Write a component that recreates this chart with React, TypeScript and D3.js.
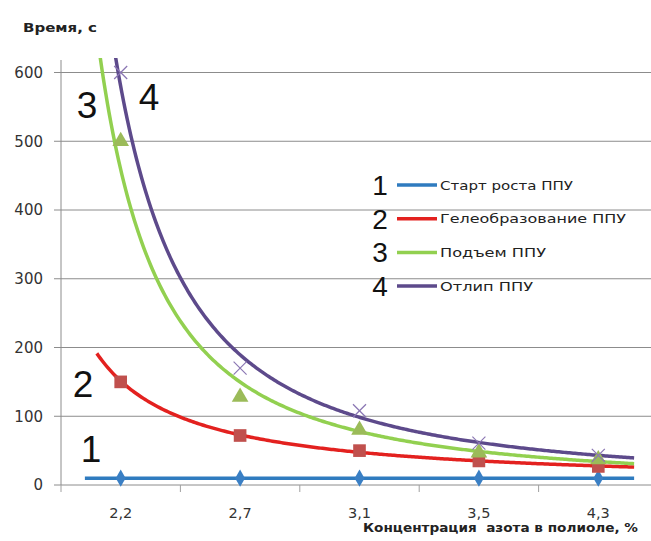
import React from "react";
import * as d3 from "d3";

const categories = ["2,2", "2,7", "3,1", "3,5", "4,3"];
const startGrowth = [10, 10, 10, 10, 10];
const gelation = [150, 72, 50, 35, 27];
const rise = [500, 128, 80, 47, 37];
const tackFree = [600, 170, 108, 61, 43];
const yTicks = [0, 100, 200, 300, 400, 500, 600];
const seriesNames = ["Старт роста ППУ", "Гелеобразование ППУ", "Подъем ППУ", "Отлип ППУ"];
const seriesNumbers = ["1", "2", "3", "4"];
const trendStart = [0.7, 0.8, 0.8, 0.8];
const trendEnd = [5.3, 5.3, 5.3, 5.3];
const yTitle = "Время, с";
const xTitle = "Концентрация  азота в полиоле, %";

const W = 651;
const H = 541;
const left = 61;
const right = 658;
const top = 58;
const bottom = 485;

const lineColors = ["#2f7bbf", "#e3211f", "#92d050", "#5d4a8b"];
const markerColors = ["#3a7fc4", "#c0504d", "#9bbb59", "#8a76b3"];

function powerFit(vals: number[]) {
  const xs = vals.map((_, i) => Math.log(i + 1));
  const ys = vals.map((v) => Math.log(v));
  const mx = d3.mean(xs) as number;
  const my = d3.mean(ys) as number;
  let sxy = 0, sxx = 0;
  xs.forEach((x, i) => {
    sxy += (x - mx) * (ys[i] - my);
    sxx += (x - mx) * (x - mx);
  });
  const b = sxy / sxx;
  const a = Math.exp(my - b * mx);
  return (t: number) => a * Math.pow(t, b);
}

export default function App() {
  const series = [startGrowth, gelation, rise, tackFree];
  const xBand = d3.scaleBand<string>().domain(categories).range([left, right]).padding(0);
  const xIdx = d3.scaleLinear().domain([0.5, categories.length + 0.5]).range([left, right]);
  const y = d3.scaleLinear().domain([0, 600]).range([bottom, 72.5]);
  const line = d3.line<[number, number]>().x((d) => xIdx(d[0])).y((d) => y(d[1]));

  const trends = series.map((vals, si) => {
    const f = powerFit(vals);
    const pts: [number, number][] = d3
      .range(0, 301)
      .map((k) => trendStart[si] + ((trendEnd[si] - trendStart[si]) * k) / 300)
      .map((t) => [t, f(t)]);
    return line(pts) as string;
  });

  const bandEdges = d3.range(categories.length + 1).map((i) => left + i * xBand.bandwidth());
  const cx = (c: string) => (xBand(c) as number) + xBand.bandwidth() / 2;

  const marker = (si: number, c: string, v: number, key: string) => {
    const px = cx(c);
    const py = y(v);
    if (si === 0) {
      return (
        <path key={key} transform={`translate(${px},${py})`} d={d3.symbol().type(d3.symbolDiamond).size(85)() as string} fill={markerColors[0]} />
      );
    }
    if (si === 1) {
      return (
        <path key={key} transform={`translate(${px},${py})`} d={d3.symbol().type(d3.symbolSquare).size(160)() as string} fill={markerColors[1]} />
      );
    }
    if (si === 2) {
      return (
        <path key={key} transform={`translate(${px},${py})`} d={d3.symbol().type(d3.symbolTriangle).size(120)() as string} fill={markerColors[2]} />
      );
    }
    return (
      <g key={key} transform={`translate(${px},${py})`} stroke={markerColors[3]} strokeWidth={1.2}>
        <line x1={-6.5} y1={-6.5} x2={6.5} y2={6.5} />
        <line x1={-6.5} y1={6.5} x2={6.5} y2={-6.5} />
      </g>
    );
  };

  const plotLabels = [
    { t: seriesNumbers[2], x: 87, y: 118 },
    { t: seriesNumbers[3], x: 149, y: 110 },
    { t: seriesNumbers[1], x: 83, y: 397 },
    { t: seriesNumbers[0], x: 91, y: 462 },
  ];
  const legendY0 = 185;
  const legendStep = 33.7;
  const legendWidths = [133, 186, 106, 93];

  return (
    <svg width={W} height={H} style={{ position: "fixed", left: 0, top: 0, background: "#fff" }}>
      <defs>
        <clipPath id="plot">
          <rect x={left} y={top} width={right - left} height={bottom - top + 5} />
        </clipPath>
      </defs>
      <rect x={0} y={0} width={W} height={H} fill="#fff" />
      {yTicks.slice(1).map((t) => (
        <line key={"g" + t} x1={left} x2={right} y1={y(t)} y2={y(t)} stroke="#8c8c8c" strokeWidth={1} />
      ))}
      <line x1={left} x2={left} y1={top + 2} y2={bottom} stroke="#8c8c8c" strokeWidth={1} />
      <line x1={left} x2={right} y1={bottom} y2={bottom} stroke="#8c8c8c" strokeWidth={1} />
      {yTicks.map((t) => (
        <line key={"yt" + t} x1={left - 7} x2={left} y1={y(t)} y2={y(t)} stroke="#8c8c8c" strokeWidth={1} />
      ))}
      {bandEdges.map((e, i) => (
        <line key={"xt" + i} x1={e} x2={e} y1={bottom} y2={bottom + 7} stroke="#a0a0a0" strokeWidth={1} />
      ))}
      {yTicks.map((t) => (
        <text key={"yl" + t} x={43} y={y(t)} dy="0.36em" textAnchor="end" fontFamily="DejaVu Sans" fontSize={15} fill="#333">
          {t}
        </text>
      ))}
      {categories.map((c) => (
        <text key={"xl" + c} x={cx(c)} y={518} textAnchor="middle" fontFamily="DejaVu Sans" fontSize={14.5} fill="#333">
          {c}
        </text>
      ))}
      <text x={23} y={32} fontFamily="DejaVu Sans" fontWeight="bold" fontSize={13} fill="#222" textLength={74} lengthAdjust="spacingAndGlyphs">
        {yTitle}
      </text>
      <text x={363} y={532} fontFamily="DejaVu Sans" fontWeight="bold" fontSize={13} fill="#222" style={{ whiteSpace: "pre" }} textLength={275} lengthAdjust="spacingAndGlyphs">
        {xTitle}
      </text>
      <g clipPath="url(#plot)">
        {trends.map((d, si) => (
          <path key={"tr" + si} d={d} fill="none" stroke={lineColors[si]} strokeWidth={3.5} strokeLinejoin="round" />
        ))}
      </g>
      <g>
        {series.map((vals, si) => vals.map((v, i) => marker(si, categories[i], v, `m${si}-${i}`)))}
      </g>
      {plotLabels.map((l, i) => (
        <text key={"pl" + i} x={l.x} y={l.y} textAnchor="middle" fontFamily="Liberation Sans" fontSize={37} fill="#111">
          {l.t}
        </text>
      ))}
      {seriesNames.map((n, i) => {
        const ly = legendY0 + i * legendStep;
        return (
          <g key={"lg" + i}>
            <text x={380} y={ly + 10} textAnchor="middle" fontFamily="Liberation Sans" fontSize={28} fill="#111">
              {seriesNumbers[i]}
            </text>
            <line x1={397} x2={437} y1={ly} y2={ly} stroke={lineColors[i]} strokeWidth={3.5} />
            <text x={440} y={ly + 4.5} fontFamily="DejaVu Sans" fontSize={13} fill="#222" textLength={legendWidths[i]} lengthAdjust="spacingAndGlyphs">
              {n}
            </text>
          </g>
        );
      })}
    </svg>
  );
}
